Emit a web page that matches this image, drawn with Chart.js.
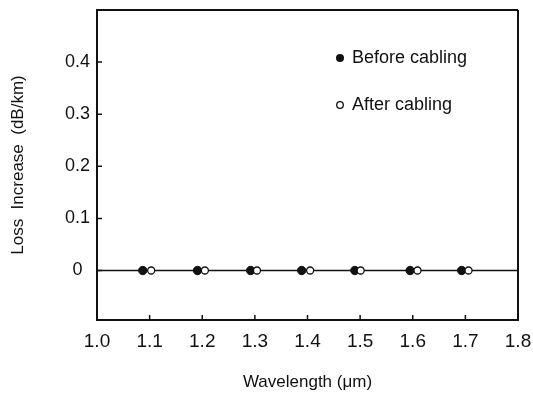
<!DOCTYPE html>
<html>
<head>
<meta charset="utf-8">
<script src="https://cdn.jsdelivr.net/npm/chart.js@4.4.0/dist/chart.umd.min.js"></script>
<style>
  html, body { margin: 0; padding: 0; background: #fff; }
  #wrap { width: 533px; height: 397px; }
</style>
</head>
<body>
<div id="wrap"><canvas id="c" width="533" height="397"></canvas></div>
<script>
// ---- data ----
const seriesNames = ['Before cabling', 'After cabling'];
const beforeWavelength = [1.087, 1.191, 1.292, 1.389, 1.490, 1.595, 1.693];
const beforeLoss       = [0, 0, 0, 0, 0, 0, 0];
const afterWavelength  = [1.103, 1.205, 1.304, 1.405, 1.501, 1.609, 1.706];
const afterLoss        = [0, 0, 0, 0, 0, 0, 0];
const zeroLineX = [1.0, 1.8];
const zeroLineY = [0, 0];
const xTickValues = [1.0, 1.1, 1.2, 1.3, 1.4, 1.5, 1.6, 1.7, 1.8];
const xTickLabels = ['1.0', '1.1', '1.2', '1.3', '1.4', '1.5', '1.6', '1.7', '1.8'];
const yTickValues = [0, 0.1, 0.2, 0.3, 0.4];
const yTickLabels = ['0', '0.1', '0.2', '0.3', '0.4'];
const xTitle = 'Wavelength (\u03bcm)';
const yTitle = 'Loss  Increase  (dB/km)';

const FONT = "'Liberation Sans', Arial, Helvetica, sans-serif";
const INK = '#111';

const toPoints = (xs, ys) => xs.map((x, i) => ({ x: x, y: ys[i] }));

const framePlugin = {
  id: 'frame',
  afterDraw(chart) {
    const { ctx, chartArea: a, scales } = chart;
    ctx.save();
    ctx.strokeStyle = INK;
    ctx.lineWidth = 2;
    ctx.beginPath();
    ctx.moveTo(a.left, a.top); ctx.lineTo(a.right, a.top);
    ctx.moveTo(a.right, a.top); ctx.lineTo(a.right, a.bottom);
    ctx.stroke();
    // inward tick marks
    ctx.lineWidth = 1.5;
    ctx.beginPath();
    scales.x.ticks.forEach(t => {
      const px = scales.x.getPixelForValue(t.value);
      ctx.moveTo(px, a.bottom); ctx.lineTo(px, a.bottom - 5);
    });
    scales.y.ticks.forEach(t => {
      const py = scales.y.getPixelForValue(t.value);
      ctx.moveTo(a.left, py); ctx.lineTo(a.left + 5, py);
    });
    ctx.stroke();
    // legend
    const lx = a.left + 243, ly1 = a.top + 48, ly2 = a.top + 95;
    ctx.fillStyle = INK;
    ctx.beginPath(); ctx.arc(lx, ly1, 4, 0, Math.PI * 2); ctx.fill();
    ctx.beginPath(); ctx.arc(lx, ly2, 3.3, 0, Math.PI * 2);
    ctx.fillStyle = '#fff'; ctx.fill();
    ctx.lineWidth = 1.3; ctx.strokeStyle = INK; ctx.stroke();
    ctx.fillStyle = INK;
    ctx.font = '18px ' + FONT;
    ctx.textAlign = 'left';
    ctx.textBaseline = 'middle';
    ctx.fillText(seriesNames[0], lx + 12, ly1);
    ctx.fillText(seriesNames[1], lx + 12, ly2);
    ctx.restore();
  }
};

new Chart(document.getElementById('c'), {
  type: 'scatter',
  data: {
    datasets: [
      {
        label: seriesNames[1],
        data: toPoints(afterWavelength, afterLoss),
        pointRadius: 3.5,
        pointBackgroundColor: '#fff',
        pointBorderColor: INK,
        pointBorderWidth: 1.3,
        showLine: false
      },
      {
        label: seriesNames[0],
        data: toPoints(beforeWavelength, beforeLoss),
        pointRadius: 4.2,
        pointBackgroundColor: INK,
        pointBorderColor: INK,
        pointBorderWidth: 1,
        showLine: false
      },
      {
        label: 'zero',
        data: toPoints(zeroLineX, zeroLineY),
        showLine: true,
        borderColor: INK,
        borderWidth: 1.3,
        pointRadius: 0
      }
    ]
  },
  options: {
    responsive: false,
    animation: false,
    events: [],
    layout: { padding: { top: 10, right: 15, left: 0, bottom: 0 } },
    plugins: { legend: { display: false }, tooltip: { enabled: false } },
    scales: {
      x: {
        type: 'linear',
        min: 1.0, max: 1.8,
        afterFit(scale) { scale.height = 77; scale.paddingLeft = 0; scale.paddingRight = 0; },
        afterBuildTicks(scale) { scale.ticks = xTickValues.map(v => ({ value: v })); },
        grid: { display: true, drawOnChartArea: false, drawTicks: false },
        border: { display: true, color: INK, width: 2 },
        ticks: {
          padding: 10,
          color: INK,
          maxRotation: 0,
          autoSkip: false,
          font: { family: FONT, size: 19 },
          callback(v) { const i = xTickValues.findIndex(t => Math.abs(t - v) < 1e-9); return i >= 0 ? xTickLabels[i] : ''; }
        },
        title: {
          display: true, text: xTitle, color: INK,
          font: { family: FONT, size: 17 },
          padding: { top: 0, bottom: 4 }
        }
      },
      y: {
        type: 'linear',
        min: -0.095, max: 0.5,
        afterFit(scale) { scale.width = 97; scale.paddingTop = 0; scale.paddingBottom = 0; },
        afterBuildTicks(scale) { scale.ticks = yTickValues.map(v => ({ value: v })); },
        grid: { display: true, drawOnChartArea: false, drawTicks: false },
        border: { display: true, color: INK, width: 2 },
        ticks: {
          padding: 7,
          crossAlign: 'center',
          color: INK,
          autoSkip: false,
          font: { family: FONT, size: 18 },
          callback(v) { const i = yTickValues.findIndex(t => Math.abs(t - v) < 1e-9); return i >= 0 ? yTickLabels[i] : ''; }
        },
        title: {
          display: true, text: yTitle, color: INK,
          font: { family: FONT, size: 17 },
          padding: { top: 8, bottom: 0 }
        }
      }
    }
  },
  plugins: [framePlugin]
});
</script>
</body>
</html>
